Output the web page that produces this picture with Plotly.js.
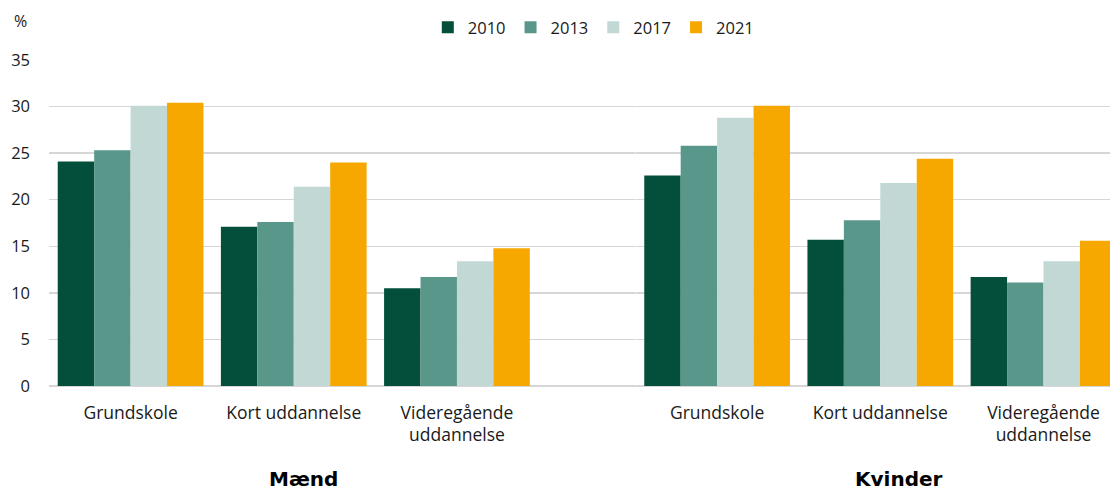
<!DOCTYPE html>
<html>
<head>
<meta charset="utf-8">
<script src="https://cdn.plot.ly/plotly-3.0.1.min.js"></script>
<style>html,body{margin:0;padding:0;background:#fff;}#chart{width:1110px;height:491px;}</style>
</head>
<body>
<div id="chart"></div>
<script>
const categories = ['Grundskole', 'Kort uddannelse', 'Videregående<br>uddannelse'];
const years = ['2010', '2013', '2017', '2021'];
const groupLabels = ['Mænd', 'Kvinder'];
const yTickVals = [0, 5, 10, 15, 20, 25, 30, 35];

const maend2010 = [24.1, 17.1, 10.5];
const maend2013 = [25.3, 17.6, 11.7];
const maend2017 = [30.1, 21.4, 13.4];
const maend2021 = [30.4, 24.0, 14.8];

const kvinder2010 = [22.6, 15.7, 11.7];
const kvinder2013 = [25.8, 17.8, 11.1];
const kvinder2017 = [28.8, 21.8, 13.4];
const kvinder2021 = [30.1, 24.4, 15.6];

const colors = ['#034F3C', '#5A978B', '#C1D8D4', '#F6A800'];
const maend = [maend2010, maend2013, maend2017, maend2021];
const kvinder = [kvinder2010, kvinder2013, kvinder2017, kvinder2021];

const FONT = '"Open Sans", Lato, sans-serif';
const BOLD = '"DejaVu Sans", sans-serif';
const traces = [];
// invisible full-width base subplot to carry gridlines across the whole plot
traces.push({x: [null], y: [null], type: 'scatter', mode: 'markers', xaxis: 'x', yaxis: 'y', showlegend: false, hoverinfo: 'skip'});
years.forEach((yr, i) => {
  traces.push({type: 'bar', name: yr, x: categories, y: maend[i], xaxis: 'x2', yaxis: 'y',
    marker: {color: colors[i], line: {width: 0}}, legendgroup: yr, showlegend: true});
});
years.forEach((yr, i) => {
  traces.push({type: 'bar', name: yr, x: categories, y: kvinder[i], xaxis: 'x3', yaxis: 'y',
    marker: {color: colors[i], line: {width: 0}}, legendgroup: yr, showlegend: false});
});

const gridColor = '#D6D6D6';
const tickFont = {family: FONT, size: 16.5, color: '#1a1a1a'};
const xTickFont = {family: FONT, size: 17.5, color: '#1a1a1a'};
const layout = {
  width: 1110, height: 491,
  margin: {l: 49, r: 0, t: 60, b: 105, pad: 0},
  paper_bgcolor: '#fff', plot_bgcolor: '#fff',
  font: {family: FONT, size: 16, color: '#1a1a1a'},
  barmode: 'group', bargap: 0.107, bargroupgap: 0,
  showlegend: true,
  legend: {orientation: 'h', x: 0.513, xanchor: 'center', y: 1.1, yanchor: 'middle',
    font: {family: FONT, size: 16.5, color: '#1a1a1a'}, traceorder: 'normal', itemwidth: 30},
  xaxis: {domain: [0, 1], range: [0, 1], showgrid: false, zeroline: false, showline: false,
    showticklabels: false, ticks: '', fixedrange: true},
  xaxis2: {domain: [0, 0.4614], type: 'category', anchor: 'y', range: [-0.5, 2.5],
    showgrid: false, zeroline: false, showline: false, ticks: '', ticklabelstandoff: 14,
    tickfont: xTickFont, fixedrange: true},
  xaxis3: {domain: [0.5528, 1], type: 'category', anchor: 'y', range: [-0.5, 2.4075],
    showgrid: false, zeroline: false, showline: false, ticks: '', ticklabelstandoff: 14,
    tickfont: xTickFont, fixedrange: true},
  yaxis: {anchor: 'x', range: [0, 35], tickvals: yTickVals, showgrid: true, gridcolor: gridColor, gridwidth: 1.5,
    zeroline: true, zerolinecolor: gridColor, zerolinewidth: 2, showline: false, ticks: '',
    ticklabelstandoff: 18, tickfont: tickFont, fixedrange: true},
  annotations: [
    {text: '%', xref: 'paper', yref: 'paper', x: -0.027, y: 1.12, xanchor: 'center', yanchor: 'middle',
      showarrow: false, font: {family: FONT, size: 16, color: '#1a1a1a'}},
    {text: '<b>' + groupLabels[0] + '</b>', xref: 'paper', yref: 'paper', x: 0.2395, y: -0.285, xanchor: 'center', yanchor: 'middle',
      showarrow: false, font: {family: BOLD, size: 20, color: '#000'}},
    {text: '<b>' + groupLabels[1] + '</b>', xref: 'paper', yref: 'paper', x: 0.8012, y: -0.285, xanchor: 'center', yanchor: 'middle',
      showarrow: false, font: {family: BOLD, size: 20, color: '#000'}}
  ]
};

Plotly.newPlot('chart', traces, layout, {displayModeBar: false, staticPlot: true});
</script>
</body>
</html>
